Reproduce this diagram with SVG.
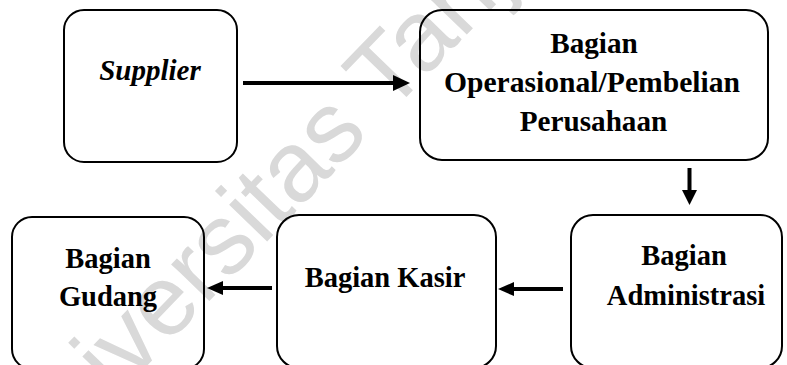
<svg xmlns="http://www.w3.org/2000/svg" width="787" height="365" viewBox="0 0 787 365">
  <style>
    .box { fill: none; stroke: #000; stroke-width: 2; }
    .lbl { font-family: "Liberation Serif", "Times New Roman", serif; font-weight: bold; font-size: 28.5px; fill: #000; text-anchor: middle; }
    .big { font-size: 29.2px; }
    .it { font-style: italic; font-size: 29px; }
    .wm { font-family: "Liberation Sans", Arial, sans-serif; font-size: 100px; fill: #d9d9d9; }
    .line { stroke: #000; stroke-width: 4; fill: none; }
    .head { fill: #000; }
  </style>
  <rect width="787" height="365" fill="#fff"/>
  <text class="wm" transform="translate(27,490) rotate(-46)">Universitas Tanjungpura</text>

  <g id="supplier">
    <rect class="box" x="64" y="10" width="173" height="152" rx="20"/>
    <text class="lbl it" x="150" y="80">Supplier</text>
  </g>
  <g id="operasional">
    <rect class="box" x="420" y="10" width="348" height="150" rx="22"/>
    <text class="lbl big" x="594" y="53">Bagian</text>
    <text class="lbl big" x="592" y="92" textLength="296" lengthAdjust="spacingAndGlyphs">Operasional/Pembelian</text>
    <text class="lbl big" x="593.5" y="131">Perusahaan</text>
  </g>
  <g id="gudang">
    <rect class="box" x="12" y="217" width="192" height="152" rx="20"/>
    <text class="lbl" x="108" y="268">Bagian</text>
    <text class="lbl" x="108" y="306">Gudang</text>
  </g>
  <g id="kasir">
    <rect class="box" x="277" y="215" width="219" height="153" rx="22"/>
    <text class="lbl" x="385" y="287">Bagian Kasir</text>
  </g>
  <g id="administrasi">
    <rect class="box" x="571" y="215" width="211" height="153" rx="22"/>
    <text class="lbl" x="684" y="265">Bagian</text>
    <text class="lbl" x="686" y="305">Administrasi</text>
  </g>

  <g id="connectors">
    <line class="line" x1="243" y1="83" x2="395" y2="83"/>
    <polygon class="head" points="393,75 410,83 393,91"/>
    <line class="line" x1="689.5" y1="168" x2="689.5" y2="192"/>
    <polygon class="head" points="682,190 689.5,205 697,190"/>
    <line class="line" x1="563" y1="289" x2="511" y2="289"/>
    <polygon class="head" points="514,282 498,289 514,296"/>
    <line class="line" x1="272" y1="288" x2="220" y2="288"/>
    <polygon class="head" points="223,281 207,288 223,295"/>
  </g>
</svg>
